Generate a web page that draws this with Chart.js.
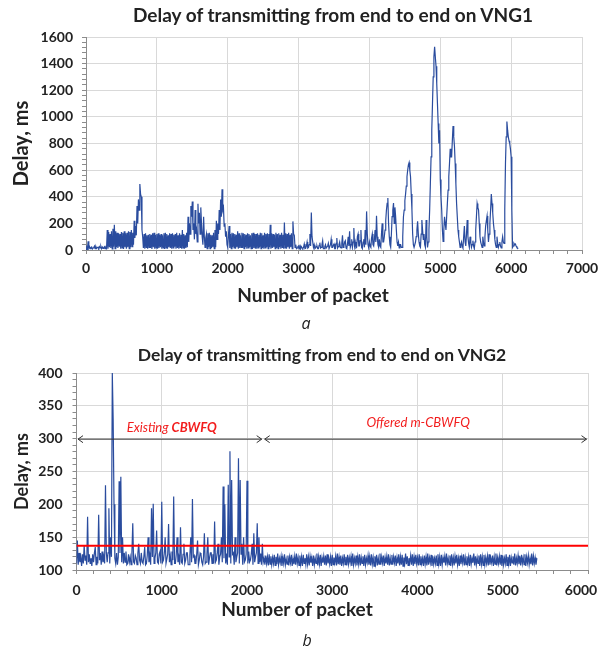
<!DOCTYPE html>
<html>
<head>
<meta charset="utf-8">
<script src="https://cdn.jsdelivr.net/npm/chart.js@4.4.1/dist/chart.umd.min.js"></script>
<style>
body { margin:0; background:#fff; width:598px; height:651px; position:relative; overflow:hidden; font-family:Lato, sans-serif; color:#222; }
canvas { position:absolute; left:0; }
#c1 { top:0; }
#c2 { top:330px; }
.txt { position:absolute; width:400px; text-align:center; white-space:nowrap; }
.title { font-weight:bold; font-size:19px; line-height:22px; }
.xtitle { font-weight:bold; font-size:19px; line-height:22px; }
.cap { font-family:'Open Sans', sans-serif; font-style:italic; font-size:16px; line-height:20px; }
</style>
</head>
<body>
<canvas id="c1" width="598" height="300"></canvas>
<canvas id="c2" width="598" height="300"></canvas>
<div class="txt title" style="left:133px;top:4px">Delay of transmitting from end to end on VNG1</div>
<div class="txt xtitle" style="left:113px;top:284px">Number of packet</div>
<div class="txt cap" style="left:106px;top:313px">a</div>
<div class="txt title" style="left:122px;top:344px;font-size:17.5px">Delay of transmitting from end to end on VNG2</div>
<div class="txt xtitle" style="left:97px;top:598px">Number of packet</div>
<div class="txt cap" style="left:107px;top:630px">b</div>
<script>
// one value every STEP packets
const STEP = 10;

// VNG1 delay, ms (packets 0 .. 6100)
const delayVNG1 = [
  5,20,8,65,12,25,10,18,22,8,15,20,30,10,25,12,18,22,10,25,
  15,28,10,22,12,18,25,10,20,12,150,10,135,20,120,15,140,8,160,25,
  190,10,140,20,130,15,125,25,120,10,135,15,130,8,140,20,125,10,130,20,
  140,10,135,20,150,25,130,40,220,90,180,110,330,200,380,300,495,420,400,150,
  100,15,120,10,125,20,110,10,115,20,120,15,115,8,125,20,130,10,115,15,
  120,10,125,15,115,20,120,10,110,15,125,8,130,15,120,10,110,20,125,15,
  120,10,125,15,115,25,120,10,130,15,110,10,125,20,115,10,150,15,120,10,
  110,15,130,20,250,60,200,120,330,250,365,150,200,80,300,120,150,60,347,200,
  280,120,320,200,100,40,250,100,20,90,120,10,125,20,130,10,115,15,110,20,
  130,10,150,20,220,80,200,120,300,150,380,250,457,300,320,180,200,100,140,40,
  20,110,180,15,120,10,130,20,125,15,120,10,115,20,140,10,125,15,110,20,
  130,15,125,10,120,20,115,10,125,15,120,20,110,10,125,8,130,15,120,10,
  120,10,125,15,115,20,130,10,125,15,110,10,130,15,120,20,125,10,120,20,
  190,10,125,15,120,20,115,10,130,15,120,10,125,20,115,10,130,20,115,10,
  207,15,125,10,120,20,130,10,115,20,125,10,215,120,110,20,40,10,15,25,
  30,8,40,10,25,15,10,20,45,10,12,30,60,15,20,40,120,30,282,100,
  100,20,40,10,15,25,30,10,10,35,55,15,20,40,70,10,10,25,40,15,
  15,30,50,10,10,40,80,20,20,35,45,10,10,50,90,15,25,40,60,20,
  15,50,110,20,30,60,70,15,10,45,100,30,140,20,40,80,20,60,165,30,
  60,15,20,100,120,30,30,70,150,20,10,60,80,20,150,40,290,120,40,15,
  60,30,20,90,120,40,30,80,150,60,257,100,40,20,80,30,20,120,200,60,
  60,100,150,220,300,350,390,200,100,40,20,120,250,300,352,200,320,250,150,60,
  30,60,15,40,40,20,20,100,250,300,370,420,480,550,600,640,657,600,550,420,
  300,120,40,20,20,60,100,150,215,120,60,30,20,120,225,150,80,120,40,20,
  225,100,20,60,150,300,500,700,900,1100,1300,1450,1527,1450,1380,1250,1100,950,800,900,
  530,400,300,150,65,150,250,200,150,250,350,450,550,650,760,700,700,820,932,850,
  780,650,500,350,250,150,100,60,20,40,60,30,15,100,180,60,30,120,225,100,
  50,20,100,60,20,40,70,30,10,60,150,250,350,320,300,200,100,60,40,20,
  100,60,30,100,180,220,255,150,60,120,200,300,420,350,280,200,150,80,40,20,
  100,50,20,40,60,30,15,60,100,60,50,300,650,850,965,900,850,820,800,760,
  700,300,20,30,50,40,45,30,20,15,10
];

// VNG2 delay, ms (packets 0 .. 5400)
const delayVNG2 = [
  110,145,108,126,112,120,106,124,110,138,115,122,108,181,112,124,110,118,106,124,
  112,126,135,108,120,110,184,115,126,108,128,112,120,110,229,126,112,126,194,110,
  150,120,400,330,200,118,110,126,108,120,235,126,242,112,150,110,126,112,128,108,
  110,124,112,120,108,126,171,112,110,122,118,108,126,140,115,110,126,112,110,120,
  135,108,110,122,150,112,122,108,194,120,201,110,118,126,160,112,110,124,128,110,
  204,112,115,126,150,110,110,124,170,112,122,108,128,115,212,110,110,124,150,112,
  120,108,165,112,110,124,140,110,115,126,126,108,108,122,150,112,208,120,122,110,
  110,124,145,108,115,126,124,112,108,120,156,110,112,124,150,108,118,126,126,110,
  124,110,174,112,115,126,140,108,120,124,150,112,227,118,200,110,125,108,230,120,
  281,110,237,124,126,108,150,112,120,126,270,110,237,124,140,108,150,112,115,124,
  236,110,128,112,115,124,140,108,156,112,120,126,171,110,150,112,125,108,140,112,
  118,108,122,110,120,107,124,109,121,108,119,110,123,107,120,109,125,108,118,111,
  121,106,119,110,124,108,117,109,122,107,120,111,123,106,118,109,121,108,125,110,
  119,107,122,109,120,106,123,110,118,108,124,109,120,107,121,111,119,106,122,108,
  118,110,125,107,120,109,123,106,119,111,121,108,122,107,124,110,118,109,120,106,
  123,108,119,111,121,107,125,109,120,108,122,106,118,110,124,108,120,107,123,109,
  119,111,121,106,125,108,118,110,122,107,120,109,124,107,119,110,121,106,123,108,
  118,111,122,108,120,107,124,109,119,106,121,110,123,107,118,109,125,108,120,111,
  122,106,119,110,121,108,124,107,118,109,123,108,120,111,122,106,119,110,124,107,
  120,108,123,106,119,110,125,109,121,107,118,111,122,108,124,106,120,109,123,110,
  119,107,124,108,121,110,118,106,122,109,120,107,125,108,119,111,123,106,121,109,
  118,110,122,107,124,109,120,106,123,108,119,111,121,107,125,110,118,108,122,106,
  124,109,119,107,121,110,123,108,118,106,122,109,120,111,124,107,119,108,121,110,
  120,106,123,109,118,111,125,107,121,108,119,110,122,106,124,109,120,107,123,108,
  119,110,121,107,124,108,118,111,122,106,120,109,125,107,119,110,121,108,123,106,
  122,108,118,110,124,107,120,109,123,106,119,111,121,108,125,107,118,110,122,109,
  121,107,123,110,119,108,124,106,120,111,122,108,118,109,125,107,121,110,119,108,
  118
];

const thresholdDelay = 137;            // red reference line, ms
const regionBounds = [0, 2190, 6000];   // packets: existing | offered
const arrowDelay = 300;
const regionLabels = [
  { parts: [['Existing ', ''], ['CBWFQ', 'bold ']], at: 1117 },
  { parts: [['Offered m-CBWFQ', '']], at: 4008 }
];

const BLUE = '#2a4c9e';
const GRID = '#d9d9d9';
const AXIS = '#8c8c8c';

Chart.defaults.font.family = 'Lato';
Chart.defaults.color = '#222';

function toPoints(values) {
  return values.map((v, i) => ({ x: i * STEP, y: v }));
}

function linAxis(min, max, step, major, pad, fit, title, lastLabel) {
  return {
    type: 'linear',
    min: min,
    max: max,
    border: { color: AXIS, width: 1 },
    grid: {
      color: c => (c.tick && c.tick.value % major === 0) ? GRID : 'rgba(0,0,0,0)',
      tickColor: AXIS,
      tickLength: 4
    },
    ticks: {
      stepSize: step,
      autoSkip: false,
      maxRotation: 0,
      padding: pad,
      font: { size: 14, weight: 'bold' },
      // last label pulled inwards like the original (trailing en spaces)
      callback: v => v % major !== 0 ? '' : (lastLabel && v === max ? v + '\u2002\u2002' : v)
    },
    title: title || { display: false },
    afterFit: fit
  };
}

function yTitle(size, pad) {
  return { display: true, text: 'Delay, ms', font: { size: size, weight: 'bold' }, padding: { top: pad, bottom: 0 } };
}

// chart a
new Chart(document.getElementById('c1'), {
  type: 'line',
  data: {
    datasets: [{
      data: toPoints(delayVNG1),
      borderColor: BLUE,
      borderWidth: 1.2,
      pointRadius: 0,
      tension: 0
    }]
  },
  options: {
    responsive: false,
    animation: false,
    layout: { padding: { top: 37, right: 16, bottom: 0, left: 0 } },
    plugins: { legend: { display: false }, tooltip: { enabled: false } },
    scales: {
      x: linAxis(0, 7000, 200, 1000, 6, s => { s.height = 50; s.paddingLeft = 0; s.paddingRight = 0; }),
      y: linAxis(0, 1600, 40, 200, 9, s => { s.width = 86; s.paddingTop = 0; s.paddingBottom = 0; }, yTitle(20, 10))
    }
  }
});

// arrows + red labels for chart b
const regionPlugin = {
  id: 'regions',
  afterDatasetsDraw(chart) {
    const { ctx, scales: { x, y } } = chart;
    const py = y.getPixelForValue(arrowDelay);
    ctx.save();
    ctx.strokeStyle = '#333';
    ctx.lineWidth = 1;
    for (let i = 0; i < regionBounds.length - 1; i++) {
      const a = x.getPixelForValue(regionBounds[i]) + 1.5;
      const b = x.getPixelForValue(regionBounds[i + 1]) - 1.5;
      ctx.beginPath();
      ctx.moveTo(a, py + 0.5); ctx.lineTo(b, py + 0.5);
      ctx.moveTo(a + 5, py - 3); ctx.lineTo(a, py + 0.5); ctx.lineTo(a + 5, py + 4);
      ctx.moveTo(b - 5, py - 3); ctx.lineTo(b, py + 0.5); ctx.lineTo(b - 5, py + 4);
      ctx.stroke();
    }
    ctx.fillStyle = '#f21d1d';
    ctx.textBaseline = 'alphabetic';
    regionLabels.forEach((lab, i) => {
      let total = 0;
      lab.parts.forEach(p => { ctx.font = 'italic ' + p[1] + '13px Lato'; total += ctx.measureText(p[0]).width; });
      let px = x.getPixelForValue(lab.at) - total / 2;
      const base = py - (i === 0 ? 7 : 12);
      lab.parts.forEach(p => {
        ctx.font = 'italic ' + p[1] + '13px Lato';
        ctx.fillText(p[0], px, base);
        px += ctx.measureText(p[0]).width;
      });
    });
    ctx.restore();
  }
};

// chart b
new Chart(document.getElementById('c2'), {
  type: 'line',
  data: {
    datasets: [{
      data: [{ x: regionBounds[0], y: thresholdDelay }, { x: regionBounds[regionBounds.length - 1], y: thresholdDelay }],
      borderColor: '#ff0000',
      borderWidth: 2,
      pointRadius: 0
    }, {
      data: toPoints(delayVNG2),
      borderColor: BLUE,
      borderWidth: 1.2,
      pointRadius: 0,
      tension: 0
    }]
  },
  options: {
    responsive: false,
    animation: false,
    layout: { padding: { top: 43, right: 10, bottom: 0, left: 0 } },
    plugins: { legend: { display: false }, tooltip: { enabled: false } },
    scales: {
      x: linAxis(0, 6000, 200, 1000, 8, s => { s.height = 60; s.paddingLeft = 0; s.paddingRight = 0; }, null, true),
      y: linAxis(100, 400, 10, 50, 10, s => { s.width = 76.5; s.paddingTop = 0; s.paddingBottom = 0; }, yTitle(18, 11))
    }
  },
  plugins: [regionPlugin]
});
</script>
</body>
</html>
